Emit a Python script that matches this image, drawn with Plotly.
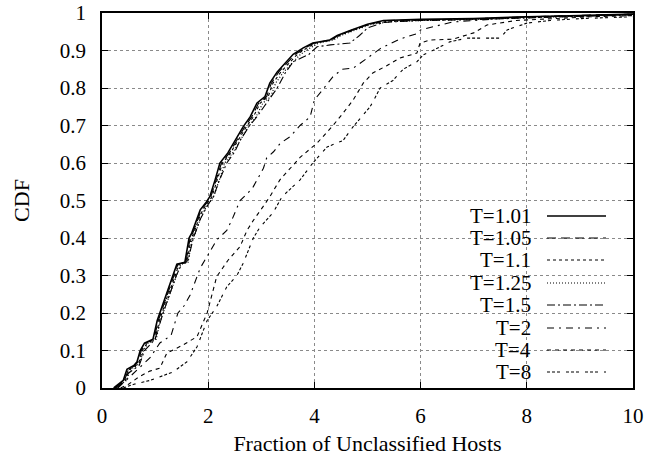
import plotly.graph_objects as go

# ---------------- data ----------------
names = ["T=1.01", "T=1.05", "T=1.1", "T=1.25", "T=1.5", "T=2", "T=4", "T=8"]

x_101 = [0.22, 0.3, 0.4, 0.47, 0.6, 0.66, 0.72, 0.8, 0.96, 1.04, 1.09, 1.18, 1.24, 1.31, 1.41, 1.56, 1.64, 1.69, 1.78, 1.85, 1.97, 2.03, 2.13, 2.22, 2.37, 2.54, 2.66, 2.79, 2.92, 3.07, 3.16, 3.3, 3.48, 3.6, 3.79, 3.97, 4.29, 4.43, 4.7, 5.0, 5.3, 6.0, 7.0, 8.0, 9.0, 10.0]
y_101 = [0.0, 0.01, 0.02, 0.05, 0.06, 0.07, 0.1, 0.12, 0.13, 0.18, 0.2, 0.24, 0.26, 0.29, 0.33, 0.335, 0.4, 0.413, 0.45, 0.475, 0.497, 0.51, 0.555, 0.6, 0.627, 0.67, 0.697, 0.723, 0.76, 0.777, 0.813, 0.843, 0.87, 0.89, 0.907, 0.92, 0.928, 0.94, 0.955, 0.97, 0.98, 0.983, 0.985, 0.99, 0.993, 0.997]

x_105 = [0.24, 0.32, 0.42, 0.5, 0.62, 0.68, 0.74, 0.83, 0.98, 1.06, 1.11, 1.2, 1.26, 1.33, 1.43, 1.58, 1.66, 1.71, 1.8, 1.87, 1.99, 2.05, 2.15, 2.25, 2.4, 2.57, 2.69, 2.82, 2.95, 3.1, 3.19, 3.33, 3.51, 3.64, 3.83, 4.0, 4.3, 4.45, 4.72, 5.02, 5.35, 6.0, 7.0, 8.0, 9.0, 10.0]
y_105 = [0.0, 0.01, 0.02, 0.05, 0.06, 0.07, 0.1, 0.12, 0.13, 0.18, 0.2, 0.24, 0.26, 0.29, 0.33, 0.335, 0.4, 0.413, 0.45, 0.475, 0.497, 0.51, 0.555, 0.6, 0.627, 0.67, 0.697, 0.723, 0.76, 0.777, 0.813, 0.843, 0.87, 0.89, 0.907, 0.92, 0.928, 0.94, 0.955, 0.97, 0.98, 0.982, 0.984, 0.99, 0.993, 0.997]

x_110 = [0.25, 0.33, 0.44, 0.52, 0.64, 0.7, 0.76, 0.85, 1.0, 1.08, 1.13, 1.22, 1.28, 1.35, 1.45, 1.6, 1.68, 1.73, 1.82, 1.9, 2.01, 2.07, 2.17, 2.27, 2.42, 2.6, 2.72, 2.85, 2.98, 3.13, 3.22, 3.37, 3.54, 3.68, 3.86, 4.03, 4.32, 4.47, 4.75, 5.05, 5.4, 6.0, 7.0, 8.0, 9.0, 10.0]
y_110 = [0.0, 0.01, 0.02, 0.05, 0.06, 0.07, 0.1, 0.12, 0.13, 0.18, 0.2, 0.24, 0.26, 0.29, 0.33, 0.335, 0.4, 0.413, 0.45, 0.475, 0.497, 0.51, 0.555, 0.6, 0.627, 0.67, 0.697, 0.723, 0.76, 0.777, 0.813, 0.843, 0.87, 0.89, 0.907, 0.92, 0.928, 0.94, 0.955, 0.97, 0.978, 0.981, 0.984, 0.989, 0.992, 0.996]

x_125 = [0.26, 0.35, 0.46, 0.54, 0.66, 0.72, 0.78, 0.87, 1.02, 1.1, 1.15, 1.25, 1.31, 1.38, 1.48, 1.62, 1.7, 1.76, 1.85, 1.93, 2.04, 2.1, 2.21, 2.31, 2.46, 2.64, 2.76, 2.9, 3.03, 3.18, 3.27, 3.42, 3.6, 3.74, 3.92, 4.08, 4.36, 4.5, 4.78, 5.08, 5.45, 6.0, 7.0, 8.0, 9.0, 10.0]
y_125 = [0.0, 0.01, 0.02, 0.05, 0.06, 0.07, 0.1, 0.12, 0.13, 0.18, 0.2, 0.24, 0.26, 0.29, 0.33, 0.335, 0.4, 0.413, 0.45, 0.475, 0.497, 0.51, 0.555, 0.6, 0.627, 0.67, 0.697, 0.723, 0.76, 0.777, 0.813, 0.843, 0.87, 0.89, 0.907, 0.92, 0.928, 0.94, 0.955, 0.97, 0.977, 0.98, 0.983, 0.988, 0.992, 0.996]

x_150 = [0.27, 0.36, 0.5, 0.7, 0.8, 1.0, 1.15, 1.3, 1.4, 1.5, 1.62, 1.72, 1.85, 2.0, 2.1, 2.2, 2.35, 2.5, 2.6, 2.78, 2.9, 3.05, 3.2, 3.3, 3.45, 3.6, 3.75, 3.9, 4.05, 4.3, 4.67, 4.85, 5.0, 5.3, 6.0, 7.0, 8.0, 9.0, 10.0]
y_150 = [0.0, 0.01, 0.04, 0.06, 0.1, 0.13, 0.2, 0.26, 0.3, 0.33, 0.34, 0.4, 0.45, 0.49, 0.51, 0.55, 0.6, 0.63, 0.66, 0.7, 0.72, 0.75, 0.78, 0.8, 0.84, 0.87, 0.88, 0.89, 0.91, 0.915, 0.92, 0.94, 0.96, 0.975, 0.98, 0.982, 0.987, 0.99, 0.995]

x_2 = [0.3, 0.45, 0.6, 0.75, 0.9, 1.09, 1.3, 1.43, 1.55, 1.66, 1.85, 2.03, 2.16, 2.35, 2.46, 2.6, 2.75, 2.85, 3.04, 3.1, 3.23, 3.36, 3.54, 3.73, 3.92, 4.0, 4.24, 4.35, 4.52, 4.73, 5.0, 5.24, 5.6, 5.93, 6.0, 6.23, 6.6, 7.5, 8.0, 9.0, 10.0]
y_2 = [0.0, 0.02, 0.04, 0.06, 0.08, 0.12, 0.14, 0.2, 0.22, 0.248, 0.32, 0.363, 0.395, 0.42, 0.453, 0.5, 0.52, 0.537, 0.586, 0.613, 0.63, 0.653, 0.67, 0.7, 0.723, 0.768, 0.81, 0.83, 0.85, 0.853, 0.88, 0.905, 0.93, 0.945, 0.955, 0.963, 0.976, 0.985, 0.99, 0.993, 0.997]

x_4 = [0.35, 0.5, 0.7, 0.9, 1.09, 1.22, 1.53, 1.79, 1.98, 2.09, 2.16, 2.37, 2.6, 2.73, 2.85, 3.03, 3.16, 3.35, 3.6, 3.73, 4.05, 4.35, 4.54, 4.73, 4.92, 5.1, 5.37, 5.61, 5.93, 5.99, 6.18, 6.6, 7.0, 7.25, 7.8, 8.5, 9.2, 10.0]
y_4 = [0.0, 0.01, 0.03, 0.045, 0.053, 0.093, 0.115, 0.137, 0.2, 0.26, 0.297, 0.34, 0.377, 0.42, 0.447, 0.483, 0.51, 0.555, 0.595, 0.615, 0.653, 0.7, 0.733, 0.768, 0.813, 0.84, 0.86, 0.88, 0.893, 0.92, 0.928, 0.93, 0.947, 0.968, 0.98, 0.985, 0.99, 0.993]

x_8 = [0.4, 0.6, 0.9, 1.1, 1.34, 1.6, 1.79, 1.98, 2.16, 2.35, 2.54, 2.66, 2.85, 2.98, 3.22, 3.39, 3.55, 3.73, 3.97, 4.24, 4.54, 4.73, 5.05, 5.24, 5.48, 5.67, 5.93, 6.05, 6.37, 6.55, 6.87, 7.5, 7.63, 8.0, 8.44, 9.0, 10.0]
y_8 = [0.0, 0.01, 0.02, 0.03, 0.043, 0.07, 0.11, 0.18, 0.217, 0.27, 0.3, 0.333, 0.4, 0.43, 0.467, 0.51, 0.53, 0.555, 0.6, 0.643, 0.66, 0.697, 0.75, 0.8, 0.82, 0.85, 0.87, 0.888, 0.91, 0.923, 0.933, 0.933, 0.955, 0.973, 0.98, 0.985, 0.99]

x_ticks = [0, 2, 4, 6, 8, 10]
y_ticks = [0, 0.1, 0.2, 0.3, 0.4, 0.5, 0.6, 0.7, 0.8, 0.9, 1]
y_tick_text = ["0", "0.1", "0.2", "0.3", "0.4", "0.5", "0.6", "0.7", "0.8", "0.9", "1"]

xs = [x_101, x_105, x_110, x_125, x_150, x_2, x_4, x_8]
ys = [y_101, y_105, y_110, y_125, y_150, y_2, y_4, y_8]

# ---------------- styles ----------------
dashes = ["solid", "9px,5px", "3px,3px", "1px,2px", "8px,3px,2px,3px",
          "7px,5px,2px,5px", "4px,4px", "3px,2px,3px,2px,3px,6px"]
widths = [1.6, 1.1, 1.1, 1.2, 1.1, 1.1, 1.1, 1.1]

FONT = "'Liberation Serif', 'Times New Roman', Times, serif"
FS = 21

fig = go.Figure()
for n, xv, yv, d, w in zip(names, xs, ys, dashes, widths):
    fig.add_trace(go.Scatter(x=xv, y=yv, mode="lines", name=n,
                             line=dict(color="black", width=w, dash=d),
                             showlegend=False))

# manual gnuplot-style key (text then sample)
L, R, T, B = 102, 633, 13, 388
W, H = R - L, B - T
def px(x):
    return (x - L) / W
def py(y):
    return (B - y) / H

shapes = [dict(type="rect", xref="paper", yref="paper",
               x0=px(453), x1=px(621), y0=py(386), y1=py(204),
               fillcolor="white", line=dict(width=0), layer="between")]
annotations = []
row_y = [216, 238, 260, 283, 305, 328, 350, 372]
for n, d, w, ry in zip(names, dashes, widths, row_y):
    annotations.append(dict(text=n, xref="paper", yref="paper", x=px(532), y=py(ry),
                            xanchor="right", yanchor="middle", showarrow=False,
                            borderpad=0,
                            font=dict(family=FONT, size=FS, color="black")))
    shapes.append(dict(type="line", xref="paper", yref="paper",
                       x0=px(547), x1=px(606), y0=py(ry), y1=py(ry),
                       line=dict(color="black", width=w, dash=d), layer="above"))

axis_common = dict(showline=True, linecolor="black", linewidth=1.5, mirror="ticks",
                   ticks="inside", ticklen=6, tickwidth=1, tickcolor="black",
                   showgrid=True, gridcolor="#8a8a8a", griddash="dot", gridwidth=1,
                   zeroline=False, automargin=False,
                   tickfont=dict(family=FONT, size=FS, color="black"))

fig.update_layout(
    width=660, height=458,
    margin=dict(l=L, r=660 - R, t=T, b=458 - B, autoexpand=False),
    paper_bgcolor="white", plot_bgcolor="white",
    font=dict(family=FONT, size=FS, color="black"),
    xaxis=dict(range=[0, 10], tickvals=x_ticks, ticklabelstandoff=8,
               title=dict(text="Fraction of Unclassified Hosts", standoff=9,
                          font=dict(family=FONT, size=22)),
               **axis_common),
    yaxis=dict(range=[0, 1], tickvals=y_ticks, ticktext=y_tick_text, ticklabelstandoff=10,
               title=dict(text="CDF", standoff=24, font=dict(family=FONT, size=22)),
               **axis_common),
    shapes=shapes, annotations=annotations,
)

fig.write_html("out.html", config={"displayModeBar": False},
               post_script="document.body.style.margin='0';document.body.style.padding='0';")
